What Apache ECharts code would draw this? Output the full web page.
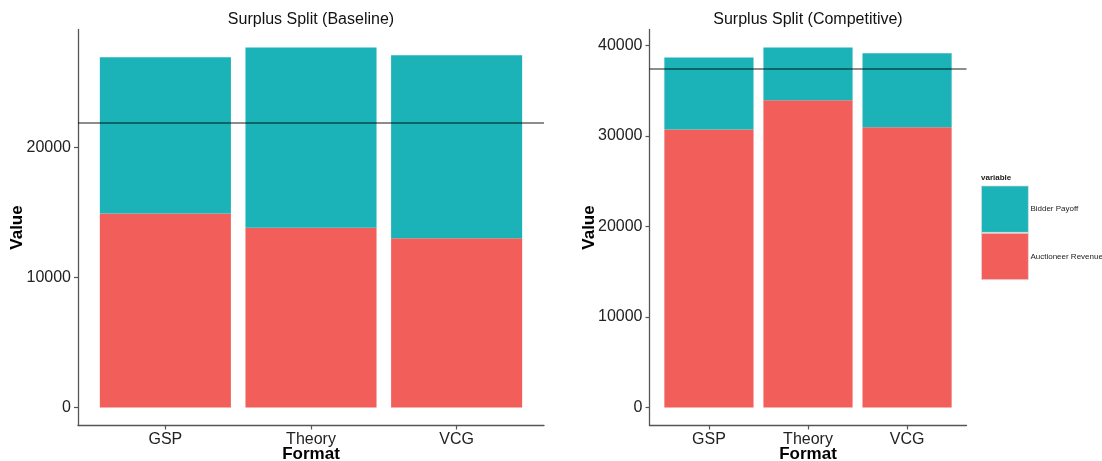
<!DOCTYPE html>
<html>
<head>
<meta charset="utf-8">
<script src="https://cdn.jsdelivr.net/npm/echarts@6/dist/echarts.min.js"></script>
<style>html,body{margin:0;padding:0;background:#fff;}#c{width:1102px;height:461px;}</style>
</head>
<body>
<div id="c"></div>
<script>
const categories = ['GSP', 'Theory', 'VCG'];
const baselineRevenue = [14900, 13800, 13000];
const baselinePayoff = [12000, 13850, 14050];
const baselineLine = 21900;
const competitiveRevenue = [30720, 33950, 30970];
const competitivePayoff = [7940, 5820, 8170];
const competitiveLine = 37450;
const baselineTicks = [0, 10000, 20000];
const competitiveTicks = [0, 10000, 20000, 30000, 40000];
const seriesNames = ['Bidder Payoff', 'Auctioneer Revenue'];

const TEAL = '#1BB3B7', RED = '#F25F5B';
const FONT = 'Liberation Sans, Arial, Helvetica, sans-serif';
const pos = [1, 2, 3];

// value first, position second (so the value dimension is the stacked one)
function pairs(vals) { return vals.map((v, i) => [v, pos[i]]); }
function yRange(rev, pay, line) {
  const tot = rev.map((r, i) => r + pay[i]);
  const mx = Math.max(...tot, line);
  return [-0.05 * mx, 1.05 * mx];
}
const r1 = yRange(baselineRevenue, baselinePayoff, baselineLine);
const r2 = yRange(competitiveRevenue, competitivePayoff, competitiveLine);

const axisLine = { show: true, onZero: false, lineStyle: { color: '#555', width: 1.3 } };
const axisTick = (vals) => ({ show: true, length: 4, lineStyle: { color: '#555', width: 1.2 }, customValues: vals });

function xAxis(gi) {
  return {
    type: 'value', gridIndex: gi, min: 0.4, max: 3.6,
    splitLine: { show: false },
    axisLine: axisLine,
    axisTick: axisTick(pos),
    axisLabel: { customValues: pos, formatter: v => categories[Math.round(v) - 1], color: '#222', fontSize: 16, fontFamily: FONT, margin: 6 },
    name: 'Format', nameLocation: 'middle', nameGap: 20, nameMoveOverlap: false,
    nameTextStyle: { fontWeight: 'bold', fontSize: 17, color: '#000', fontFamily: FONT }
  };
}
function yAxis(gi, r, ticks, gap) {
  return {
    type: 'value', gridIndex: gi, min: r[0], max: r[1],
    splitLine: { show: false },
    axisLine: axisLine,
    axisTick: axisTick(ticks),
    axisLabel: { customValues: ticks, formatter: v => String(v), color: '#222', fontSize: 16, fontFamily: FONT, margin: 7 },
    name: 'Value', nameLocation: 'middle', nameGap: gap, nameMoveOverlap: false,
    nameTextStyle: { fontWeight: 'bold', fontSize: 17, color: '#000', fontFamily: FONT }
  };
}
function barSeries(name, gi, vals, color, stack, line) {
  const s = {
    name: name, type: 'bar', xAxisIndex: gi, yAxisIndex: gi, stack: stack,
    encode: { x: 1, y: 0 },
    barWidth: '90%', data: pairs(vals), itemStyle: { color: color }
  };
  if (line !== undefined) {
    s.markLine = {
      silent: true, symbol: 'none', label: { show: false },
      lineStyle: { type: 'solid', color: 'rgba(0,0,0,0.6)', width: 1.5 },
      data: [{ yAxis: line }]
    };
  }
  return s;
}

const chart = echarts.init(document.getElementById('c'));
chart.setOption({
  animation: false,
  backgroundColor: '#fff',
  title: [
    { text: 'Surplus Split (Baseline)', left: 311, top: 12, padding: 0, textAlign: 'center', textStyle: { fontSize: 16, fontWeight: 'normal', color: '#111', fontFamily: FONT } },
    { text: 'Surplus Split (Competitive)', left: 808, top: 12, padding: 0, textAlign: 'center', textStyle: { fontSize: 16, fontWeight: 'normal', color: '#111', fontFamily: FONT } },
    { text: 'variable', left: 981, top: 174, padding: 0, textStyle: { fontSize: 8, fontWeight: 'bold', color: '#222', fontFamily: FONT } }
  ],
  legend: {
    data: seriesNames, orient: 'vertical', left: 981, top: 185.5, padding: 0,
    itemWidth: 47, itemHeight: 46.5, itemGap: 0, icon: 'rect',
    itemStyle: { borderColor: '#e0e0e0', borderWidth: 0.8 },
    textStyle: { fontSize: 8, color: '#222', fontFamily: FONT, width: 120, overflow: 'none', padding: [0, 0, 0, -3] },
    selectedMode: false
  },
  grid: [
    { left: 78, right: 558, top: 29.5, bottom: 35.5, containLabel: false, outerBoundsMode: 'none' },
    { left: 649.5, right: 135.5, top: 29.5, bottom: 35.5, containLabel: false, outerBoundsMode: 'none' }
  ],
  xAxis: [xAxis(0), xAxis(1)],
  yAxis: [yAxis(0, r1, baselineTicks, 52), yAxis(1, r2, competitiveTicks, 52)],
  series: [
    barSeries('Auctioneer Revenue', 0, baselineRevenue, RED, 'b'),
    barSeries('Bidder Payoff', 0, baselinePayoff, TEAL, 'b', baselineLine),
    barSeries('Auctioneer Revenue', 1, competitiveRevenue, RED, 'c'),
    barSeries('Bidder Payoff', 1, competitivePayoff, TEAL, 'c', competitiveLine)
  ]
});
</script>
</body>
</html>
